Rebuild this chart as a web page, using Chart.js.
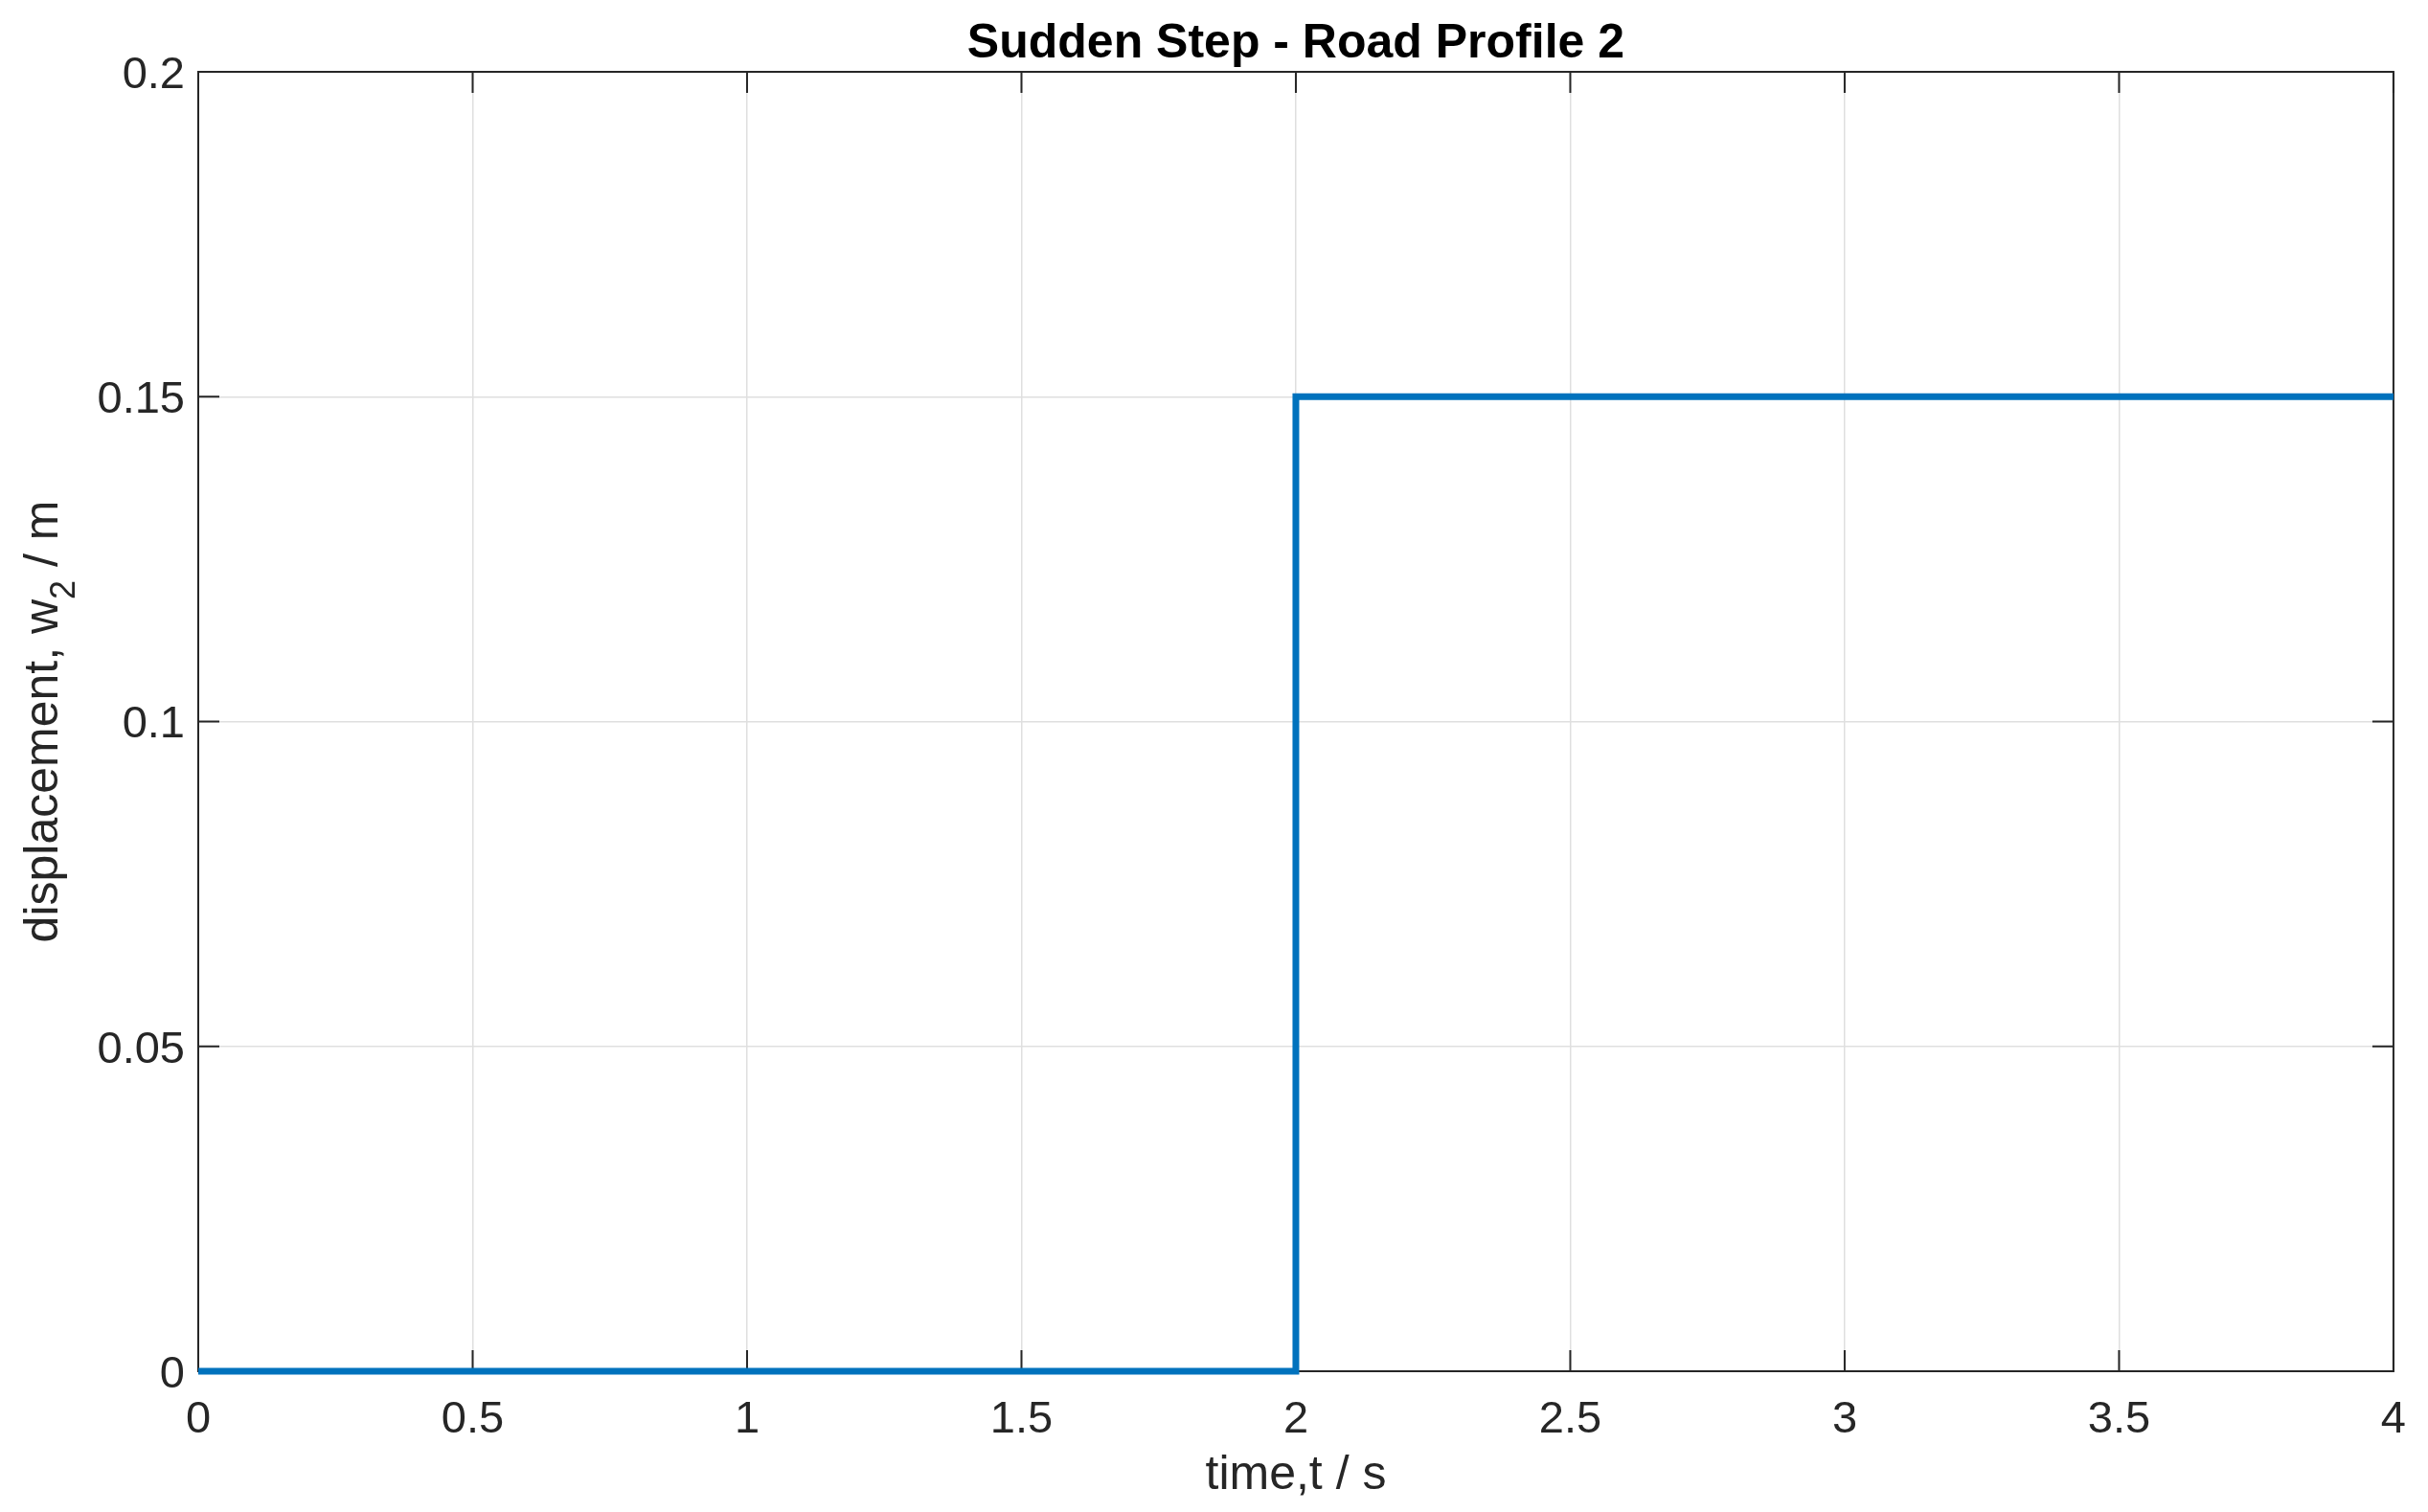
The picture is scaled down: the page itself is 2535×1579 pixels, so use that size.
<!DOCTYPE html>
<html>
<head>
<meta charset="utf-8">
<title>Sudden Step - Road Profile 2</title>
<script src="https://cdn.jsdelivr.net/npm/chart.js@4.4.1/dist/chart.umd.min.js"></script>
<style>
  html, body { margin: 0; padding: 0; background: #ffffff; }
  canvas { display: block; }
</style>
</head>
<body>
<canvas id="stepChart" width="2535" height="1579"></canvas>
<script>
// step input: road rises by 0.15 m at t = 2 s
var timeValues = [0, 2, 2, 4];
var displacementValues = [0, 0, 0.15, 0.15];

var xTickValues = [0, 0.5, 1, 1.5, 2, 2.5, 3, 3.5, 4];
var xTickLabels = ['0', '0.5', '1', '1.5', '2', '2.5', '3', '3.5', '4'];
var yTickValues = [0, 0.05, 0.1, 0.15, 0.2];
var yTickLabels = ['0', '0.05', '0.1', '0.15', '0.2'];

var chartTitle = 'Sudden Step - Road Profile 2';
var xTitle = 'time,t / s';
var yTitleParts = ['displacement, w', '2', ' / m'];   // middle part is the subscript

var FONT = '"Liberation Sans", Arial, Helvetica, sans-serif';
var AXIS_COLOR = '#262626';
var TICK_LEN = 22;

function labelFor(values, labels, v) {
    for (var i = 0; i < values.length; i++) {
        if (Math.abs(values[i] - v) < 1e-9) return labels[i];
    }
    return '';
}

// box round the plot + inward tick marks (matlab style)
var boxPlugin = {
    id: 'matlabBox',
    beforeDatasetsDraw: function (chart) {
        var ctx = chart.ctx;
        var a = chart.chartArea;
        var xs = chart.scales.x;
        var ys = chart.scales.y;
        ctx.save();
        ctx.strokeStyle = AXIS_COLOR;
        ctx.lineWidth = 2;
        ctx.beginPath();
        xTickValues.forEach(function (v) {
            var px = xs.getPixelForValue(v);
            ctx.moveTo(px, a.bottom);
            ctx.lineTo(px, a.bottom - TICK_LEN);
            ctx.moveTo(px, a.top);
            ctx.lineTo(px, a.top + TICK_LEN);
        });
        yTickValues.forEach(function (v) {
            var py = ys.getPixelForValue(v);
            ctx.moveTo(a.left, py);
            ctx.lineTo(a.left + TICK_LEN, py);
            ctx.moveTo(a.right, py);
            ctx.lineTo(a.right - TICK_LEN, py);
        });
        ctx.stroke();
        ctx.strokeRect(a.left, a.top, a.right - a.left, a.bottom - a.top);
        ctx.restore();
    },
    afterDraw: function (chart) {
        var ctx = chart.ctx;
        var a = chart.chartArea;
        ctx.save();

        // title, centred over the plot area
        ctx.fillStyle = '#000000';
        ctx.font = 'bold 50px ' + FONT;
        ctx.textAlign = 'center';
        ctx.textBaseline = 'alphabetic';
        ctx.fillText(chartTitle, (a.left + a.right) / 2, 60);

        // y label with subscript, rotated
        var mainFont = '50px ' + FONT;
        var subFont = '36px ' + FONT;
        ctx.font = mainFont;
        var w0 = ctx.measureText(yTitleParts[0]).width;
        var w2 = ctx.measureText(yTitleParts[2]).width;
        ctx.font = subFont;
        var w1 = ctx.measureText(yTitleParts[1]).width;
        var total = w0 + w1 + w2;

        ctx.translate(60, (a.top + a.bottom) / 2);
        ctx.rotate(-Math.PI / 2);
        ctx.fillStyle = AXIS_COLOR;
        ctx.textAlign = 'left';
        var x = -total / 2;
        ctx.font = mainFont;
        ctx.fillText(yTitleParts[0], x, 0);
        x += w0;
        ctx.font = subFont;
        ctx.fillText(yTitleParts[1], x, 18);
        x += w1;
        ctx.font = mainFont;
        ctx.fillText(yTitleParts[2], x, 0);
        ctx.restore();
    }
};

var points = timeValues.map(function (t, i) {
    return { x: t, y: displacementValues[i] };
});

var ctx = document.getElementById('stepChart').getContext('2d');
new Chart(ctx, {
    type: 'line',
    data: {
        datasets: [{
            label: 'w2',
            data: points,
            borderColor: '#0072BD',
            backgroundColor: '#0072BD',
            borderWidth: 7,
            pointRadius: 0,
            tension: 0,
            fill: false,
            clip: false
        }]
    },
    options: {
        responsive: false,
        animation: false,
        layout: { padding: { top: 75, right: 35, left: 0, bottom: 0 } },
        plugins: {
            legend: { display: false },
            title: { display: false },
            tooltip: { enabled: false }
        },
        scales: {
            x: {
                type: 'linear',
                min: 0,
                max: 4,
                afterBuildTicks: function (scale) {
                    scale.ticks = xTickValues.map(function (v) { return { value: v }; });
                },
                afterFit: function (scale) { scale.height = 147; },
                ticks: {
                    autoSkip: false,
                    maxRotation: 0,
                    padding: 23,
                    color: AXIS_COLOR,
                    font: { family: FONT, size: 47 },
                    callback: function (v) { return labelFor(xTickValues, xTickLabels, v); }
                },
                grid: { color: '#dfdfdf', lineWidth: 1.5, drawTicks: false },
                border: { display: true, color: AXIS_COLOR, width: 2 },
                title: {
                    display: true,
                    text: xTitle,
                    color: AXIS_COLOR,
                    font: { family: FONT, size: 50 },
                    padding: { top: 0, bottom: 8 }
                }
            },
            y: {
                type: 'linear',
                min: 0,
                max: 0.2,
                afterBuildTicks: function (scale) {
                    scale.ticks = yTickValues.map(function (v) { return { value: v }; });
                },
                afterFit: function (scale) { scale.width = 207; },
                ticks: {
                    autoSkip: false,
                    padding: 14,
                    labelOffset: 4,
                    color: AXIS_COLOR,
                    font: { family: FONT, size: 47 },
                    callback: function (v) { return labelFor(yTickValues, yTickLabels, v); }
                },
                grid: { color: '#dfdfdf', lineWidth: 1.5, drawTicks: false },
                border: { display: true, color: AXIS_COLOR, width: 2 }
            }
        }
    },
    plugins: [boxPlugin]
});
</script>
</body>
</html>
